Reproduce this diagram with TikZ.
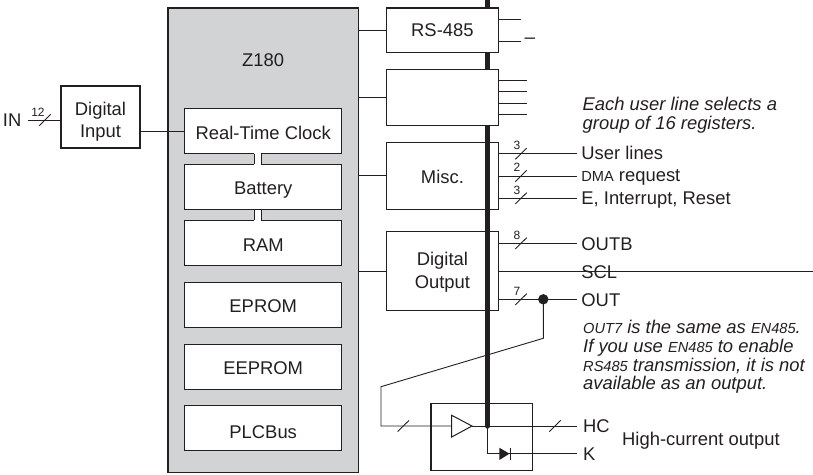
\documentclass[tikz,border=0pt]{standalone}
\usepackage{fontspec}
\setmainfont{Liberation Sans}
\definecolor{ink}{HTML}{231F20}
\definecolor{chipgray}{HTML}{D1D3D4}
\tikzset{
  box/.style={draw=ink,line width=1.2pt,fill=white,inner sep=0pt,text=ink,align=center,font=\fontsize{18.4}{22.6}\selectfont},
  inbox/.style={box,line width=1pt,minimum width=157pt,minimum height=45pt,text height=15.6pt,text depth=0pt},
  outbox/.style={box,minimum width=112.2pt},
  wire/.style={draw=ink,line width=.9pt},
  sig/.style={anchor=west,inner ysep=0pt,inner xsep=4.5pt,text=ink,text height=15pt,text depth=3.6pt,font=\fontsize{18.4}{20}\selectfont},
  siglow/.style={sig,text height=18pt,text depth=3pt},
  cnt/.style={inner sep=0pt,text=ink,font=\fontsize{12}{12}\selectfont},
  note/.style={anchor=west,inner sep=0pt,text=ink,align=left,font=\fontsize{18.4}{18.7}\selectfont\itshape},
  plain/.style={inner sep=0pt,text=ink,font=\fontsize{18.4}{20}\selectfont}
}
\newcommand{\smcap}[1]{{\fontsize{14.6}{12}\selectfont #1}}
\newcommand{\buscut}[2]{\draw[wire] (#1-5.7,#2+5.6) -- (#1+5.7,#2-5.6);}
\begin{document}
\begin{tikzpicture}[x=1pt,y=-1pt]
  \useasboundingbox (0,0) rectangle (813,474);
  % CPU and its blocks
  \node[box,line width=1.4pt,fill=chipgray,minimum width=190.5pt,minimum height=464.5pt] (z180) at (263.2,240.3) {};
  \node[plain] (z180name) at (263.2,60) {Z180};
  \node[inbox,text height=17pt] (rtc) at (263.2,131) {Real-Time Clock};
  \node[inbox] (battery) at (263.2,187.1) {Battery};
  \node[inbox] (ram) at (263.2,243.2) {RAM};
  \node[inbox] (eprom) at (263.2,304.8) {EPROM};
  \node[inbox] (eeprom) at (263.2,366.5) {EEPROM};
  \node[inbox,text height=20pt] (plcbus) at (263.2,428.2) {PLCBus};
  \foreach \a/\b in {rtc/battery,battery/ram}{
    \fill[white] ([xshift=-9.2pt,yshift=.6pt]\a.south) rectangle ([xshift=-2.2pt,yshift=-.6pt]\b.north);
    \draw[wire] ([xshift=-9.2pt]\a.south) -- ([xshift=-9.2pt]\b.north);
    \draw[wire] ([xshift=-2.2pt]\a.south) -- ([xshift=-2.2pt]\b.north);
  }
  % input side
  \node[box,minimum width=79pt,minimum height=62pt,text height=45.3pt] (dinput) at (100.5,117) {Digital\\Input};
  \node[plain,anchor=east] (in) at (21.5,120) {IN};
  \coordinate (instart) at (28,120);
  \draw[wire] (instart) -- (dinput.west |- instart);
  \draw[wire] (dinput.east |- rtc) -- (rtc.west);
  \buscut{45}{120}
  \node[cnt] (in12) at (38,112) {12};
  % output blocks
  \node[outbox,minimum height=67.2pt,text height=14.8pt,text depth=0pt] (misc) at (442.4,175.9) {Misc.};
  \node[outbox,minimum height=78.8pt,text height=38.3pt] (doutput) at (442.4,271.1) {Digital\\Output};
  \node[box,minimum width=101.3pt,minimum height=67pt,fill=none] (hcbox) at (481.7,437.2) {};
  \draw[wire] (z180.east |- misc) -- (misc.west);
  \draw[wire] (z180.east |- doutput) -- (doutput.west);
  % signals
  \foreach \name/\y/\n/\txt in {user/153.7/3/User lines,dma/176/2/\smcap{DMA} request,eint/198.3/3/{E, Interrupt, Reset}}{
    \node[sig] (\name) at (576.7,\y) {\txt};
    \draw[wire] (misc.east |- \name) -- (\name.west);
    \buscut{521}{\y}
    \node[cnt] at (517,\y-8.4) {\n};
  }
  \foreach \name/\y/\n/\txt in {outb/243.3/8/OUTB,out/299.3/7/OUT}{
    \node[siglow] (\name) at (576.7,\y) {\txt};
    \draw[wire] (doutput.east |- \name) -- (\name.west);
    \buscut{521}{\y}
    \node[cnt] at (517,\y-8.4) {\n};
  }
  \node[siglow,text height=17pt] (scl) at (576.7,271) {SCL};
  \coordinate (sclend) at (813,271);
  \draw[wire] (doutput.east |- scl) -- (sclend);
  % high-current driver
  \coordinate (tap) at (543.3,299.3);
  \coordinate (ampin) at (451.7,426);
  \coordinate (ampout) at (472,426);
  \coordinate (buskick) at (487.4,426);
  \fill[ink] (tap) circle (5.2pt);
  \draw[wire] (tap) -- (543.3,338.3) -- (381,386.7) -- (381,426) -- (ampin);
  \draw[box,line width=1pt] (451.7,415.3) -- (ampout) -- (451.7,437) -- cycle;
  \node[sig,inner xsep=6.3pt,text height=16.6pt] (hc) at (576.7,426) {HC};
  \node[sig,inner xsep=6.3pt,text height=16.6pt] (k) at (576.7,453.7) {K};
  \draw[wire] (ampout) -- (hc.west);
  \draw[wire] (buskick) |- (k.west);
  \buscut{403.3}{426}
  \buscut{555}{426}
  \fill[ink] (499.3,447.7) -- (509.5,453.7) -- (499.3,460) -- cycle;
  \draw[wire] (510,447.7) -- (510,460);
  \node[plain,anchor=west] (hcnote) at (622,441) {High-current output};
  % data bus
  \draw[draw=ink,line width=5.4pt,line cap=round] (487.4,-4) -- (buskick);
  \node[outbox,minimum height=44.5pt,text height=11.4pt,text depth=0pt] (rs485) at (442.4,30.3) {RS-485};
  \node[outbox,minimum height=56pt] (ctrl) at (442.4,97.5) {};
  \draw[wire] (z180.east |- rs485) -- (rs485.west);
  \draw[wire] (z180.east |- ctrl) -- (ctrl.west);
  \foreach \y in {19,41.5}{\draw[wire] (rs485.east |- 0,\y) -- (521,\y);}
  \node[anchor=west,inner sep=0pt,text=ink,font=\fontsize{19}{19}\selectfont] (rsdash) at (524.3,41) {–};
  \foreach \y in {80.5,91.7,103,114.2}{\draw[wire] (ctrl.east |- 0,\y) -- (526.5,\y);}
  % notes
  \node[note] (usernote) at (582.5,115.5) {Each user line selects a\\group of 16 registers.};
  \node[note] (outnote) at (583,357) {\smcap{OUT7} is the same as \smcap{EN485}.\\If you use \smcap{EN485} to enable\\\smcap{RS485} transmission, it is not\\available as an output.};
\end{tikzpicture}
\end{document}
